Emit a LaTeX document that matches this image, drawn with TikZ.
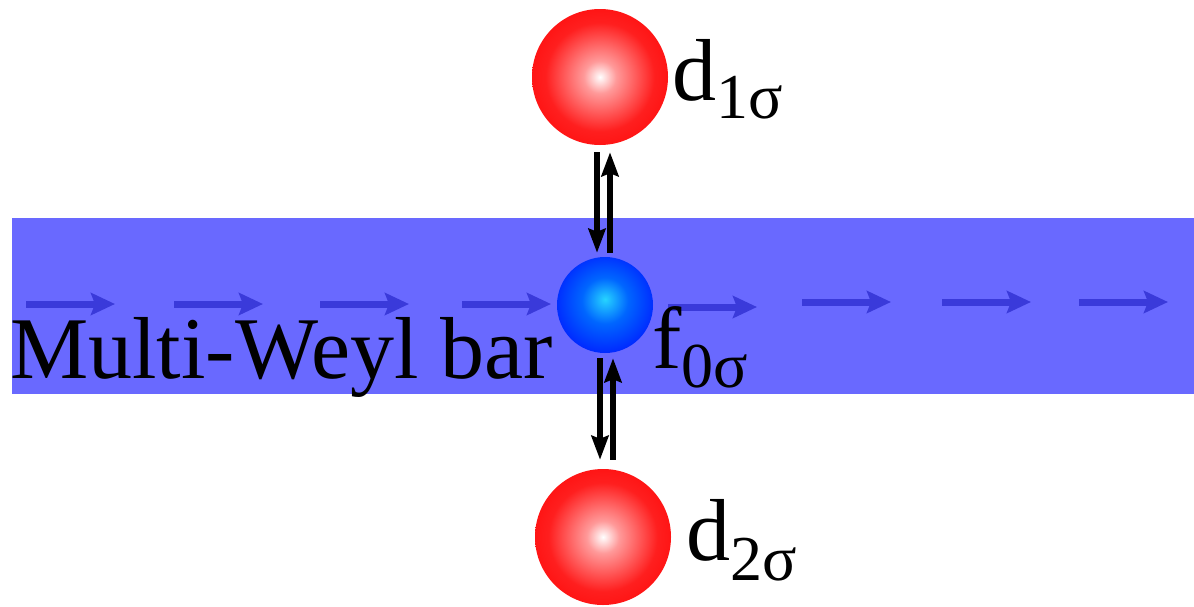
\documentclass[tikz,border=0pt]{standalone}
\usepackage{fontspec}
\setmainfont{Liberation Serif}
\usepackage{tikz}
\usetikzlibrary{arrows.meta, positioning, calc}

\definecolor{barblue}{RGB}{105,105,255}
\definecolor{flowblue}{RGB}{58,58,218}
\pgfdeclareradialshading{redsphere}{\pgfpoint{0bp}{0bp}}{%
  color(0bp)=(white); color(6bp)=(red!40!white); color(20bp)=(red!88!white); color(36bp)=(red); color(50bp)=(red)}
\pgfdeclareradialshading{bluesphere}{\pgfpoint{0bp}{3bp}}{%
  color(0bp)=(cyan!80!blue!85!white); color(12bp)=(blue!60!cyan); color(30bp)=(blue!90!cyan); color(50bp)=(blue!90!black)}
\newcommand{\orbsub}[2]{\raisebox{-#2}{\fontsize{64}{64}\selectfont #1}}

\begin{document}
\begin{tikzpicture}[x=1pt, y=-1pt,
    sphere/.style={circle, inner sep=0pt},
    hop/.style={line width=6pt, -{Stealth[length=24pt, width=17pt, inset=3pt]}},
    flow/.style={flowblue, line width=7pt, -{Stealth[length=24pt, width=22pt, inset=4pt]}},
    lbl/.style={inner sep=0pt, anchor=base west, font=\fontsize{88}{92}\selectfont}]
    \useasboundingbox (0,0) rectangle (1194,606);

    % Bar
    \fill[barblue] (12,218) rectangle (1194,394);

    % Flow arrows along the bar
    \foreach \x/\y in {26/304, 174/304, 320/304, 462/304, 668/307, 802/302, 942/302, 1079/302}
      \draw[flow] (\x,\y) -- ++(89,0);

    % Orbitals
    \node[sphere, minimum size=136pt, shading=redsphere] (d1) at (600,77) {};
    \node[sphere, minimum size=96pt, shading=bluesphere] (f0) at (605,305) {};
    \node[sphere, minimum size=136pt, shading=redsphere] (d2) at (603,537) {};

    % Labels
    \node[lbl] (barlabel) at (10,378) {Multi-Weyl bar};
    \node[lbl] (f0label) at (652,368) {f\orbsub{0σ}{19pt}};
    \node[lbl] (d1label) at (672,100) {d\orbsub{1σ}{18pt}};
    \node[lbl] (d2label) at (686,560) {d\orbsub{2σ}{20pt}};

    % Hopping
    \draw[hop, shorten <=7pt, shorten >=4pt] ([xshift=-3pt]d1.south) -- ([xshift=-8pt]f0.north);
    \draw[hop, shorten <=4pt, shorten >=7pt] ([xshift=5pt]f0.north) -- ([xshift=10pt]d1.south);
    \draw[hop, shorten <=5pt, shorten >=9pt] ([xshift=-5pt]f0.south) -- ([xshift=-3pt]d2.north);
    \draw[hop, shorten <=9pt, shorten >=5pt] ([xshift=10pt]d2.north) -- ([xshift=8pt]f0.south);
\end{tikzpicture}
\end{document}
